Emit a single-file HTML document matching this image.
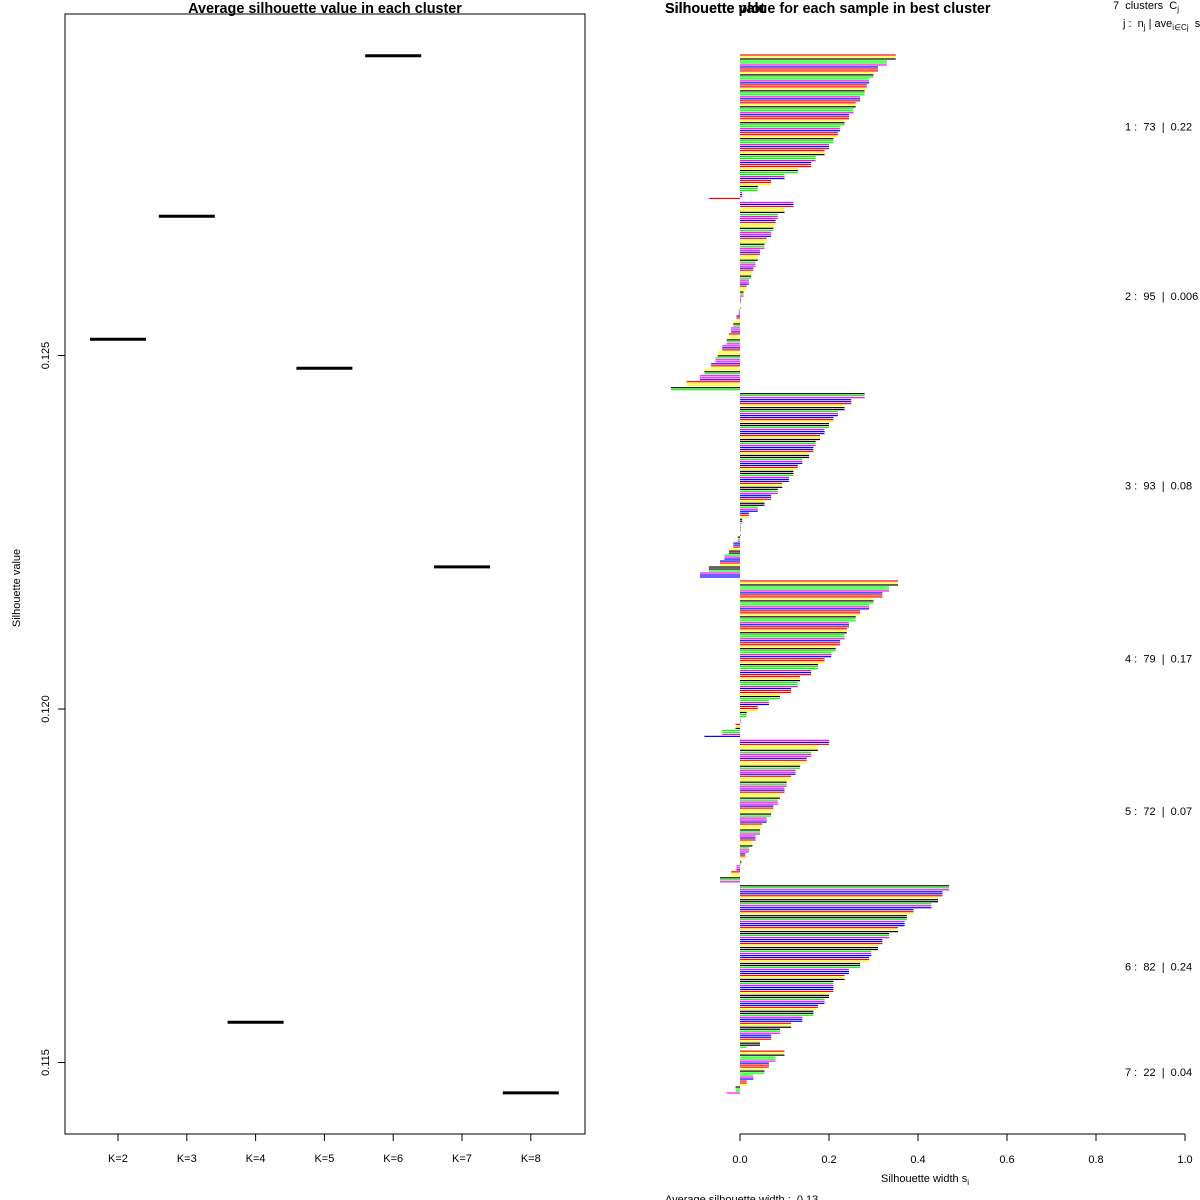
<!DOCTYPE html>
<html><head><meta charset="utf-8"><style>
body{margin:0;background:#fff}
svg{display:block;font-family:"Liberation Sans",sans-serif}
text{white-space:pre}
</style></head><body>
<svg id="chart" width="1200" height="1200" viewBox="0 0 1200 1200" xml:space="preserve">
<g id="left"></g>
<g id="right"></g>
</svg>
<script>
// ---- left chart data ----
const kLabels = ["K=2","K=3","K=4","K=5","K=6","K=7","K=8"];
const avgSil = [0.12523,0.12697,0.11557,0.12482,0.12924,0.12201,0.11457];
const yTicks = [0.115,0.120,0.125];
// ---- right chart data (each value = a group of 3 samples, sorted) ----
const clusterSizes = [73,95,93,79,72,82,22];
const clusterAvg = ["0.22","0.006","0.08","0.17","0.07","0.24","0.04"];
const c1 = [0.35,0.33,0.31,0.30,0.29,0.285,0.28,0.27,0.26,0.255,0.245,0.235,0.225,0.22,0.21,0.20,0.19,0.17,0.16,0.13,0.10,0.07,0.04,0.005,-0.07];
const c2 = [0.12,0.10,0.085,0.08,0.075,0.07,0.06,0.055,0.045,0.04,0.035,0.03,0.025,0.02,0.015,0.008,0.002,0.0,-0.003,-0.008,-0.015,-0.02,-0.025,-0.03,-0.04,-0.05,-0.055,-0.065,-0.08,-0.09,-0.12,-0.155];
const c3 = [0.28,0.25,0.235,0.22,0.21,0.20,0.19,0.18,0.17,0.165,0.155,0.14,0.13,0.12,0.11,0.095,0.085,0.07,0.055,0.04,0.02,0.005,0,0,-0.005,-0.015,-0.025,-0.035,-0.045,-0.07,-0.09];
const c4 = [0.355,0.335,0.32,0.30,0.29,0.27,0.26,0.245,0.24,0.235,0.225,0.215,0.205,0.19,0.175,0.16,0.135,0.13,0.115,0.09,0.065,0.04,0.015,0.0,-0.01,-0.04,-0.08];
const c5 = [0.2,0.175,0.16,0.15,0.135,0.125,0.115,0.105,0.10,0.09,0.085,0.075,0.07,0.06,0.05,0.045,0.035,0.028,0.02,0.012,0.003,-0.008,-0.02,-0.045];
const c6 = [0.47,0.455,0.445,0.43,0.39,0.375,0.37,0.355,0.335,0.32,0.31,0.295,0.29,0.27,0.245,0.235,0.21,0.21,0.20,0.19,0.175,0.165,0.14,0.115,0.09,0.07,0.045,0.015];
const c7 = [0.10,0.08,0.065,0.055,0.03,0.015,-0.01,-0.03];
const clusters = [c1,c2,c3,c4,c5,c6,c7];
const xTicks = [0,0.2,0.4,0.6,0.8,1.0];

const NS="http://www.w3.org/2000/svg";
function mk(parent,tag,attrs,text){const e=document.createElementNS(NS,tag);for(const k in attrs)e.setAttribute(k,attrs[k]);if(text!==undefined)e.textContent=text;parent.appendChild(e);return e;}

// ---------- left ----------
const L=document.getElementById('left');
const yL=v=>709-(v-0.120)/0.005*353.5;
const xL=i=>118+i*68.8;
let e;
e=mk(L,'rect',{x:65,y:14,width:520,height:1120,fill:'none',stroke:'#000','stroke-width':1});


e=mk(L,'text',{x:325,y:13,'text-anchor':'middle','font-size':14.4,'font-weight':'bold'},'Average silhouette value in each cluster');


e=mk(L,'text',{x:0,y:0,transform:'translate(20,588) rotate(-90)','text-anchor':'middle','font-size':11},'Silhouette value');


yTicks.forEach(t=>{
  const y=yL(t);
  e=mk(L,'line',{x1:58,x2:65,y1:y,y2:y,stroke:'#000'});
  
  
  e=mk(L,'text',{x:0,y:0,transform:`translate(49,${y}) rotate(-90)`,'text-anchor':'middle','font-size':11},t.toFixed(3));
  
  
});
kLabels.forEach((k,i)=>{
  const x=xL(i);
  e=mk(L,'line',{x1:x,x2:x,y1:1134,y2:1141,stroke:'#000'});
  
  
  e=mk(L,'text',{x:x,y:1162,'text-anchor':'middle','font-size':11},k);
  
  
  const y=yL(avgSil[i]);
  e=mk(L,'line',{x1:x-28,x2:x+28,y1:y,y2:y,stroke:'#000','stroke-width':3});
  
  
});

// ---------- right ----------
const R=document.getElementById('right');
const x0=740, xs=445;
const xR=v=>x0+v*xs;
const colors=['#f00','#00f','#f0f','#0f0','#000','#ff0'];
const totalLines=clusterSizes.reduce((a,b)=>a+b,0)+clusterSizes.length-1;
const pitch=(1093-55)/(totalLines-1);
let line=0;
clusters.forEach((vals,ci)=>{
  const n=clusterSizes[ci];
  const yStart=55+line*pitch;
  for(let s=0;s<n;s++){
    const v=vals[Math.min(Math.floor(s/3),vals.length-1)];
    const y=55+line*pitch;
    const a=Math.min(xR(0),xR(v)), w=Math.max(Math.abs(xR(v)-xR(0)),0.6);
    e=mk(R,'rect',{x:a,y:y-0.6,width:w,height:1.2,fill:colors[(s*5+ci*2+(s>>2))%6]});
    
    
    line++;
  }
  const yEnd=55+(line-1)*pitch;
  line++;
  e=mk(R,'text',{x:1125,y:(yStart+yEnd)/2+4,'font-size':11},`${ci+1} :  ${n}  |  ${clusterAvg[ci]}`);
  
  
});
e=mk(R,'line',{x1:x0,x2:x0+xs,y1:1134,y2:1134,stroke:'#000'});


xTicks.forEach(t=>{
  const x=xR(t);
  e=mk(R,'line',{x1:x,x2:x,y1:1134,y2:1141,stroke:'#000'});
  
  
  e=mk(R,'text',{x:x,y:1163,'text-anchor':'middle','font-size':11},t.toFixed(1));
  
  
});
e=mk(R,'text',{x:925,y:1182,'text-anchor':'middle','font-size':11},'Silhouette width s');


mk(e,'tspan',{'font-size':8,dy:3},'i');
e=mk(R,'text',{x:665,y:1203,'font-size':11},'Average silhouette width :  0.13');


e=mk(R,'text',{x:665,y:13,'font-size':14.4,'font-weight':'bold'},'Silhouette plot');


e=mk(R,'text',{x:665,y:13,'font-size':14.4,'font-weight':'bold'},'Silhouette value for each sample in best cluster');


e=mk(R,'text',{x:1113,y:9,'font-size':11},'7  clusters  C');


mk(e,'tspan',{'font-size':8,dy:3},'j');
e=mk(R,'text',{x:1123,y:27,'font-size':11},'j :  n');


mk(e,'tspan',{'font-size':8,dy:3},'j');
mk(e,'tspan',{dy:-3},' | ave');
mk(e,'tspan',{'font-size':8,dy:3},'i∈Cj');
mk(e,'tspan',{dy:-3},'  s');
</script>
</body></html>
